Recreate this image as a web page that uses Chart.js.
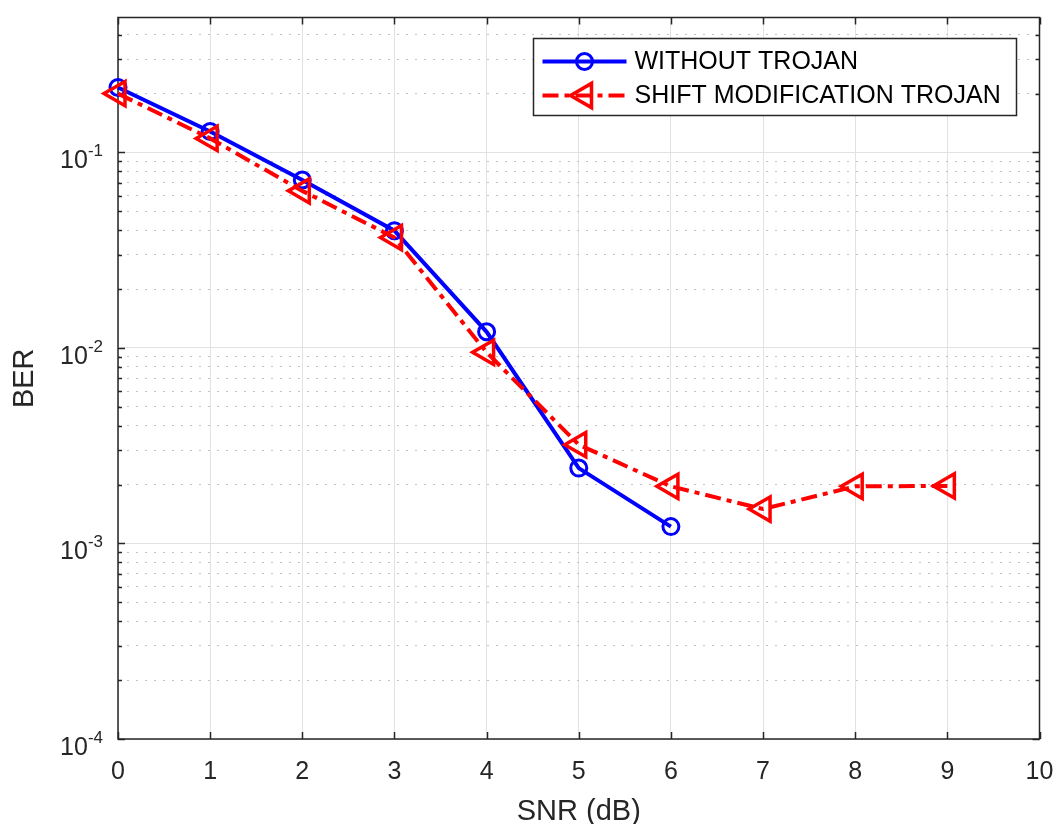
<!DOCTYPE html>
<html><head><meta charset="utf-8">
<script src="https://cdn.jsdelivr.net/npm/chart.js@4/dist/chart.umd.min.js"></script>
<style>html,body{margin:0;padding:0;background:#fff;overflow:hidden}</style>
</head><body>
<canvas id="c" width="1057" height="824" style="display:block;width:1057px;height:824px"></canvas>
<script>
// ---- data ----
const seriesLabels = ['WITHOUT TROJAN', 'SHIFT MODIFICATION TROJAN'];
const snrWithout = [0, 1, 2, 3, 4, 5, 6];
const berWithout = [0.215, 0.128, 0.0723, 0.0398, 0.0121, 0.00243, 0.00122];
const snrShift = [0, 1, 2, 3, 4, 5, 6, 7, 8, 9];
const berShift = [0.200, 0.118, 0.0636, 0.0367, 0.0095, 0.0032, 0.00196, 0.0015, 0.00196, 0.00197];
const xTickValues = [0, 1, 2, 3, 4, 5, 6, 7, 8, 9, 10];
const yDecades = [1e-4, 1e-3, 1e-2, 1e-1];
const yDecadeExponents = ['-4', '-3', '-2', '-1'];
const xTitle = 'SNR (dB)';
const yTitle = 'BER';

const FONT = '"Liberation Sans", Arial, Helvetica, sans-serif';
Chart.defaults.font.family = FONT;

function isMajor(v) {
  const l = Math.log10(v);
  return Math.abs(l - Math.round(l)) < 1e-9;
}
function logTicks(min, max) {
  const out = [];
  for (let e = Math.floor(Math.log10(min)); e <= Math.ceil(Math.log10(max)); e++) {
    for (let m = 1; m <= 9; m++) {
      const v = parseFloat((m * Math.pow(10, e)).toPrecision(6));
      if (v >= min - 1e-15 && v <= max + 1e-15) out.push({ value: v, major: m === 1 });
    }
  }
  return out;
}

const TRI_ROT = -90;

function drawMarker(ctx, style, x, y, r, color, bw) {
  ctx.save();
  ctx.strokeStyle = color;
  ctx.lineWidth = bw;
  ctx.setLineDash([]);
  ctx.beginPath();
  if (style === 'circle') {
    ctx.arc(x, y, r, 0, Math.PI * 2);
  } else {
    let rad = TRI_ROT * Math.PI / 180;
    ctx.moveTo(x + Math.sin(rad) * r, y - Math.cos(rad) * r);
    rad += 2 * Math.PI / 3;
    ctx.lineTo(x + Math.sin(rad) * r, y - Math.cos(rad) * r);
    rad += 2 * Math.PI / 3;
    ctx.lineTo(x + Math.sin(rad) * r, y - Math.cos(rad) * r);
    ctx.closePath();
  }
  ctx.stroke();
  ctx.restore();
}

const matlabAxes = {
  id: 'matlabAxes',
  beforeDatasetsDraw(chart) {
    const { ctx, chartArea: a, scales: { x, y } } = chart;
    ctx.save();
    ctx.strokeStyle = '#262626';
    ctx.lineWidth = 1.5;
    ctx.setLineDash([]);
    ctx.beginPath();
    x.ticks.forEach(t => {
      const px = Math.round(x.getPixelForValue(t.value)) + 0.5;
      ctx.moveTo(px, a.bottom); ctx.lineTo(px, a.bottom - 7);
      ctx.moveTo(px, a.top); ctx.lineTo(px, a.top + 7);
    });
    y.ticks.forEach(t => {
      const py = Math.round(y.getPixelForValue(t.value)) + 0.5;
      const len = isMajor(t.value) ? 7 : 4;
      ctx.moveTo(a.left, py); ctx.lineTo(a.left + len, py);
      ctx.moveTo(a.right, py); ctx.lineTo(a.right - len, py);
    });
    ctx.stroke();
    ctx.strokeRect(a.left, a.top, a.right - a.left, a.bottom - a.top);

    // y tick labels 10^n
    ctx.fillStyle = '#262626';
    const baseFont = '25px ' + FONT;
    const expFont = '17px ' + FONT;
    yDecades.forEach((d, i) => {
      const py = y.getPixelForValue(d);
      const exp = yDecadeExponents[i];
      ctx.font = expFont;
      const wExp = ctx.measureText(exp).width;
      const rightEdge = a.left - 15;
      ctx.textAlign = 'left';
      ctx.textBaseline = 'alphabetic';
      ctx.fillText(exp, rightEdge - wExp, py + 4);
      ctx.font = baseFont;
      ctx.textAlign = 'right';
      ctx.fillText('10', rightEdge - wExp, py + 16);
    });
    ctx.restore();
  },
  afterDraw(chart) {
    const { ctx, chartArea: a } = chart;
    const ds = chart.data.datasets;
    const boxR = a.right - 23, boxT = a.top + 21, boxW = 483, boxH = 77;
    const boxL = boxR - boxW;
    ctx.save();
    ctx.fillStyle = '#ffffff';
    ctx.fillRect(boxL, boxT, boxW, boxH);
    ctx.strokeStyle = '#262626';
    ctx.lineWidth = 1.5;
    ctx.setLineDash([]);
    ctx.strokeRect(boxL, boxT, boxW, boxH);
    const rows = [boxT + 23, boxT + 57];
    ds.forEach((d, i) => {
      const yy = rows[i];
      const x0 = boxL + 9, x1 = boxL + 93, xm = (x0 + x1) / 2;
      ctx.save();
      ctx.strokeStyle = d.borderColor;
      ctx.lineWidth = d.borderWidth;
      ctx.setLineDash(d.borderDash || []);
      ctx.beginPath();
      ctx.moveTo(x0, yy); ctx.lineTo(x1, yy);
      ctx.stroke();
      ctx.restore();
      drawMarker(ctx, d.pointStyle, xm, yy, d.pointRadius, d.pointBorderColor, d.pointBorderWidth);
      ctx.fillStyle = '#000000';
      ctx.font = '25px ' + FONT;
      ctx.textAlign = 'left';
      ctx.textBaseline = 'middle';
      ctx.fillText(d.label, boxL + 101, yy + 1);
    });
    ctx.restore();
  }
};

const ctx = document.getElementById('c').getContext('2d');
new Chart(ctx, {
  type: 'line',
  data: {
    datasets: [
      {
        label: seriesLabels[0],
        data: snrWithout.map((v, i) => ({ x: v, y: berWithout[i] })),
        borderColor: '#0000ff',
        borderWidth: 4,
        pointStyle: 'circle',
        pointRadius: 8,
        pointBorderWidth: 3,
        pointBorderColor: '#0000ff',
        pointBackgroundColor: 'rgba(0,0,0,0)',
        pointHoverRadius: 8,
        fill: false,
        tension: 0,
        clip: false,
        order: 1
      },
      {
        label: seriesLabels[1],
        data: snrShift.map((v, i) => ({ x: v, y: berShift[i] })),
        borderColor: '#ff0000',
        borderWidth: 4,
        borderDash: [16, 6, 5, 6],
        pointStyle: 'triangle',
        pointRotation: TRI_ROT,
        pointRadius: 14,
        pointBorderWidth: 3.5,
        pointBorderColor: '#ff0000',
        pointBackgroundColor: 'rgba(0,0,0,0)',
        pointHoverRadius: 14,
        fill: false,
        tension: 0,
        clip: false,
        order: 0
      }
    ]
  },
  options: {
    responsive: false,
    animation: false,
    events: [],
    layout: { padding: { top: 14, right: 17, left: 0, bottom: 0 } },
    plugins: { legend: { display: false }, tooltip: { enabled: false } },
    scales: {
      x: {
        type: 'linear',
        min: xTickValues[0],
        max: xTickValues[xTickValues.length - 1],
        afterBuildTicks: s => { s.ticks = xTickValues.map(v => ({ value: v })); },
        ticks: { font: { size: 25 }, color: '#262626', padding: 0, maxRotation: 0, autoSkip: false },
        grid: { color: '#e2e2e2', lineWidth: 1, drawTicks: true, tickLength: 18, tickColor: 'rgba(0,0,0,0)' },
        border: { display: false },
        title: { display: true, text: xTitle, color: '#262626', font: { size: 29, lineHeight: 1 }, padding: { top: 0, bottom: -2 } },
        afterFit: s => { s.height = 85; }
      },
      y: {
        type: 'logarithmic',
        min: 1e-4,
        max: 0.49,
        afterBuildTicks: s => { s.ticks = logTicks(1e-4, 0.49); },
        ticks: { display: false },
        grid: {
          drawTicks: false,
          lineWidth: 1,
          color: c => (c.tick && !isMajor(c.tick.value)) ? '#c2c2c2' : '#e2e2e2'
        },
        border: {
          display: false,
          dash: c => (c.tick && !isMajor(c.tick.value)) ? [2, 7] : []
        },
        title: { display: true, text: yTitle, color: '#262626', font: { size: 29, lineHeight: 1 }, padding: { top: 10, bottom: 0 } },
        afterFit: s => { s.width = 118; }
      }
    }
  },
  plugins: [matlabAxes]
});
</script>
</body></html>
